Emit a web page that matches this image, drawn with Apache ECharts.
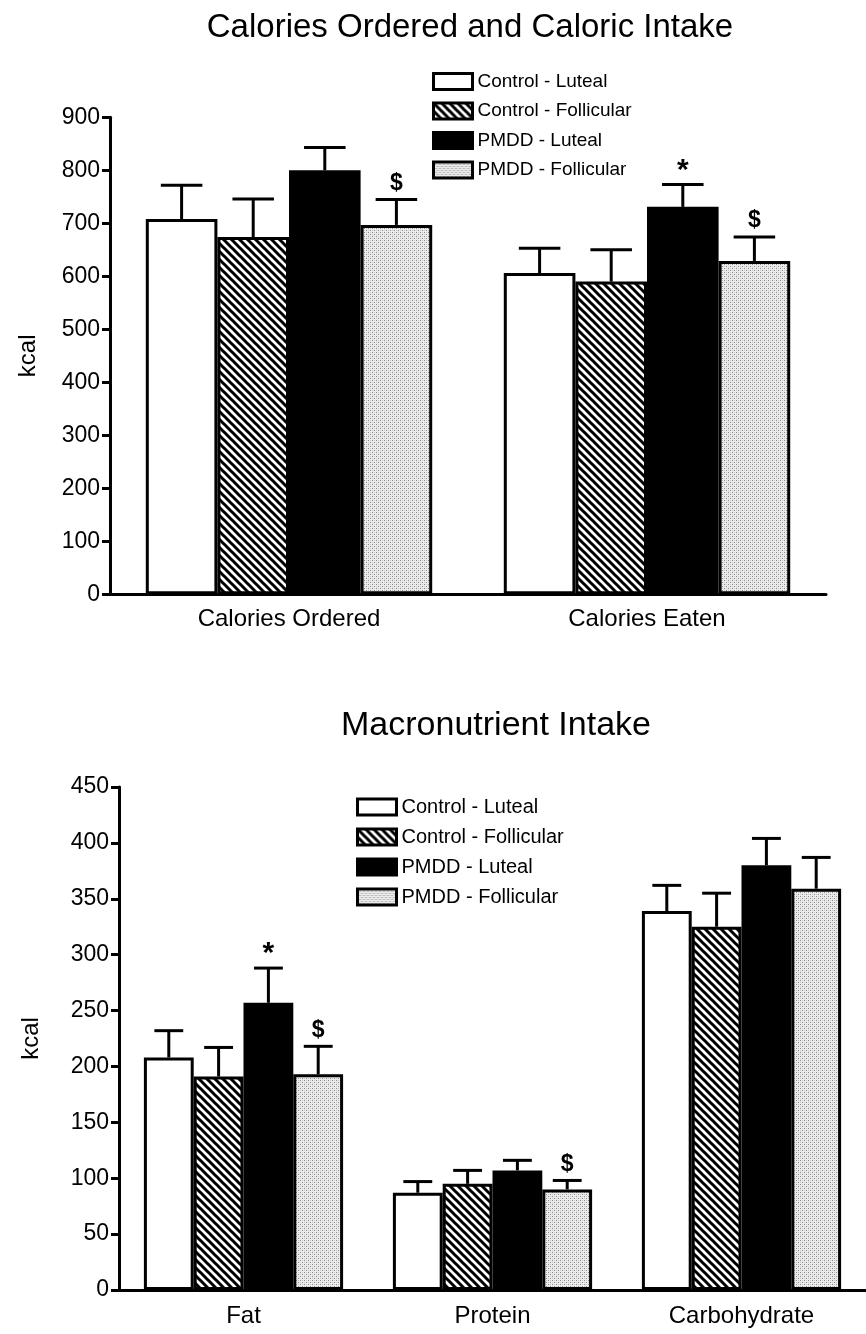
<!DOCTYPE html>
<html>
<head>
<meta charset="utf-8">
<script src="https://cdn.jsdelivr.net/npm/echarts@6/dist/echarts.min.js"></script>
<style>html,body{margin:0;padding:0;background:#fff}#c{width:866px;height:1334px}</style>
</head>
<body>
<div id="c"></div>
<script>
// ---- data ----
const groupNames = ['Control - Luteal', 'Control - Follicular', 'PMDD - Luteal', 'PMDD - Follicular'];

const topCategories = ['Calories Ordered', 'Calories Eaten'];
const topMeans = [
  [708, 606],   // Control - Luteal
  [674, 590],   // Control - Follicular
  [800, 731],   // PMDD - Luteal
  [697, 629]    // PMDD - Follicular
];
const topSEM = [
  [64, 47],
  [72, 60],
  [43, 42],
  [48, 45]
];
const topMarks = [
  ['', ''],
  ['', ''],
  ['', '*'],
  ['$', '$']
];
const topTicks = {min: 0, max: 900, interval: 100};

const botCategories = ['Fat', 'Protein', 'Carbohydrate'];
const botMeans = [
  [208, 87, 339],
  [191, 95, 325],
  [257, 107, 380],
  [193, 90, 359]
];
const botSEM = [
  [24, 10, 23],
  [26, 12, 30],
  [31, 9, 24],
  [25, 8, 28]
];
const botMarks = [
  ['', '', ''],
  ['', '', ''],
  ['*', '', ''],
  ['$', '$', '']
];
const botTicks = {min: 0, max: 450, interval: 50};

// ---- fill textures ----
function hatchPattern() {
  const c = document.createElement('canvas');
  c.width = 8; c.height = 8;
  const g = c.getContext('2d');
  g.fillStyle = '#fff'; g.fillRect(0, 0, 8, 8);
  g.strokeStyle = '#000'; g.lineWidth = 3;
  g.beginPath();
  g.moveTo(-4, -4); g.lineTo(12, 12);
  g.moveTo(-4, 4); g.lineTo(4, 12);
  g.moveTo(4, -4); g.lineTo(12, 4);
  g.stroke();
  return {image: c, repeat: 'repeat'};
}
function dotPattern() {
  const c = document.createElement('canvas');
  c.width = 4; c.height = 4;
  const g = c.getContext('2d');
  g.fillStyle = '#ececec'; g.fillRect(0, 0, 4, 4);
  g.fillStyle = '#8a8a8a';
  g.fillRect(0, 0, 1, 1); g.fillRect(2, 2, 1, 1);
  g.fillStyle = '#c8c8c8';
  g.fillRect(2, 0, 1, 1); g.fillRect(0, 2, 1, 1);
  return {image: c, repeat: 'repeat'};
}
const fills = ['#ffffff', hatchPattern(), '#000000', dotPattern()];

const FONT = '"Liberation Sans Narrow", "Arial Narrow", "Liberation Sans", Arial, sans-serif';

function barSeries(means, axisIdx) {
  return groupNames.map((n, s) => ({
    type: 'bar', name: n, xAxisIndex: axisIdx, yAxisIndex: axisIdx,
    data: means[s], barGap: '0%', barCategoryGap: '20%',
    itemStyle: {color: fills[s], borderColor: '#000', borderWidth: 3},
    emphasis: {disabled: true}, animation: false
  }));
}
function errSeries(means, sems, marks, axisIdx) {
  const data = [], mk = [];
  means.forEach((arr, s) => arr.forEach((v, i) => {
    data.push([i, s, v, v + sems[s][i]]);
    mk.push(marks[s][i]);
  }));
  return {
    type: 'custom', xAxisIndex: axisIdx, yAxisIndex: axisIdx, z: 5,
    encode: {x: 0, y: [2, 3]}, data: data, animation: false, silent: true,
    renderItem: function (params, api) {
      const cat = api.value(0), s = api.value(1);
      const base = api.coord([cat, api.value(2)]);
      const top = api.coord([cat, api.value(3)]);
      const band = api.size([1, 0])[0];
      const bw = band * 0.8 / 4;
      const x = base[0] + (s - 1.5) * bw;
      const cw = bw * 0.58;
      const children = [
        {type: 'line', shape: {x1: x, y1: base[1], x2: x, y2: top[1]}, style: {stroke: '#000', lineWidth: 3}},
        {type: 'line', shape: {x1: x - cw / 2, y1: top[1], x2: x + cw / 2, y2: top[1]}, style: {stroke: '#000', lineWidth: 3}}
      ];
      const m = mk[params.dataIndex];
      if (m) {
        const star = m === '*';
        children.push({type: 'text', x: x, y: top[1] - (star ? 14 : 16),
          style: {text: m, align: 'center', verticalAlign: 'middle', fill: '#000',
            font: 'bold ' + (star ? 30 : 23) + 'px ' + FONT}});
      }
      return {type: 'group', children: children};
    }
  };
}

function xAxis(cats, gi, margin) {
  return {
    type: 'category', gridIndex: gi, data: cats,
    axisLine: {lineStyle: {color: '#000', width: 3}},
    axisTick: {alignWithLabel: true, length: 8, lineStyle: {color: '#000', width: 3}},
    axisLabel: {color: '#000', fontSize: 24, fontFamily: FONT, margin: margin}
  };
}
function yAxis(t, gi, gap) {
  return {
    type: 'value', gridIndex: gi, min: t.min, max: t.max, interval: t.interval,
    name: 'kcal', nameLocation: 'middle', nameGap: gap,
    nameTextStyle: {color: '#000', fontSize: 24, fontFamily: FONT},
    splitLine: {show: false},
    axisLine: {show: true, lineStyle: {color: '#000', width: 3}},
    axisTick: {show: true, length: 8, lineStyle: {color: '#000', width: 3}},
    axisLabel: {color: '#000', fontSize: 23, fontFamily: FONT, margin: 10}
  };
}

const legendCommon = {
  orient: 'vertical', icon: 'rect', itemWidth: 39, itemHeight: 16, padding: 0,
  selectedMode: false, data: groupNames,
  itemStyle: {borderColor: '#000', borderWidth: 3}
};

const option = {
  animation: false,
  title: [
    {text: 'Calories Ordered and Caloric Intake', left: 470, top: 11, textAlign: 'center', padding: 0,
     textStyle: {color: '#000', fontSize: 33, fontWeight: 'normal', fontFamily: FONT}},
    {text: 'Macronutrient Intake', left: 496, top: 709, textAlign: 'center', padding: 0,
     textStyle: {color: '#000', fontSize: 34, fontWeight: 'normal', fontFamily: FONT}}
  ],
  legend: [
    Object.assign({}, legendCommon, {left: 432, top: 72, itemGap: 10.5,
      textStyle: {color: '#000', fontSize: 19, fontFamily: FONT}}),
    Object.assign({}, legendCommon, {left: 356, top: 797, itemGap: 10,
      textStyle: {color: '#000', fontSize: 20, fontFamily: FONT}})
  ],
  grid: [
    {left: 110, top: 117.3, width: 716, height: 477},
    {left: 119, top: 787, width: 754, height: 503}
  ],
  xAxis: [xAxis(topCategories, 0, 13), xAxis(botCategories, 1, 14)],
  yAxis: [yAxis(topTicks, 0, 70), yAxis(botTicks, 1, 76)],
  series: [].concat(
    barSeries(topMeans, 0),
    barSeries(botMeans, 1),
    [errSeries(topMeans, topSEM, topMarks, 0), errSeries(botMeans, botSEM, botMarks, 1)]
  )
};

const chart = echarts.init(document.getElementById('c'), null, {renderer: 'canvas'});
chart.setOption(option);
</script>
</body>
</html>
